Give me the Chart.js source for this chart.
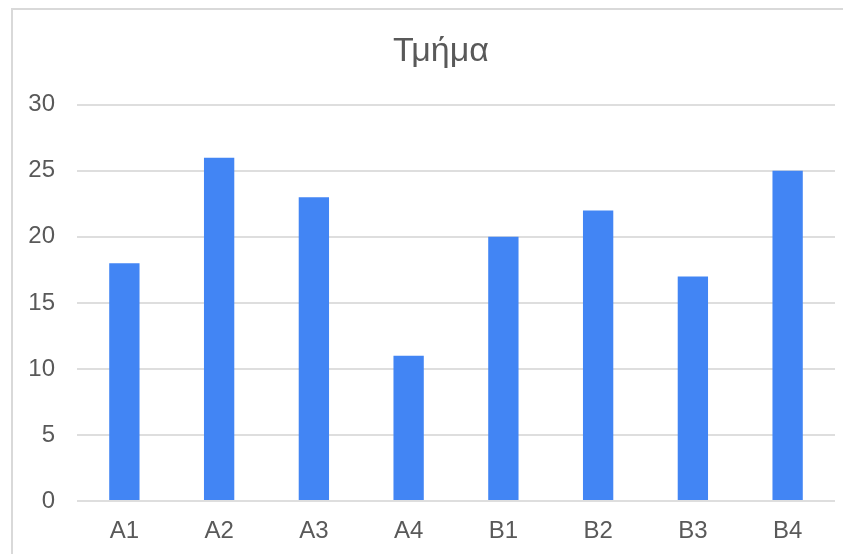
<!DOCTYPE html>
<html lang="el">
<head>
    <meta charset="UTF-8">
    <title>Τμήμα</title>
    <script src="https://cdn.jsdelivr.net/npm/chart.js"></script>
    <style>
        body {
            margin: 0;
            background: white;
            overflow: hidden;
        }
        #chart {
            position: absolute;
            left: 0;
            top: 0;
        }
        /* the chart frame is cut off on the right and bottom, like the original */
        .frame {
            position: absolute;
            left: 11px;
            top: 8px;
            width: 900px;
            height: 600px;
            border-left: 2px solid #d9d9d9;
            border-top: 2px solid #d9d9d9;
            pointer-events: none;
        }
    </style>
</head>
<body>
    <canvas id="chart" width="882" height="554"></canvas>
    <div class="frame"></div>

    <script>
        // data
        const categories = ["A1", "A2", "A3", "A4", "B1", "B2", "B3", "B4"];
        const values = [18, 26, 23, 11, 20, 22, 17, 25];
        const yTicks = [0, 5, 10, 15, 20, 25, 30];

        const textColor = "#595959";
        const fontFamily = "Arial, 'Liberation Sans', sans-serif";

        let ctx = document.getElementById("chart").getContext("2d");
        let chart = new Chart(ctx, {
            type: "bar",
            data: {
                labels: categories,
                datasets: [{
                    label: "Τμήμα",
                    data: values,
                    backgroundColor: "#4285F4",
                    borderWidth: 0,
                    categoryPercentage: 1.0,
                    barPercentage: 0.32
                }]
            },
            options: {
                responsive: false,
                animation: false,
                layout: {
                    padding: 0
                },
                plugins: {
                    legend: { display: false },
                    tooltip: { enabled: false },
                    title: {
                        display: true,
                        text: "Τμήμα",
                        color: textColor,
                        font: { family: fontFamily, size: 34, weight: "normal" },
                        padding: { top: 31, bottom: 33 }
                    }
                },
                scales: {
                    x: {
                        grid: { display: false },
                        border: { display: false },
                        ticks: {
                            color: textColor,
                            font: { family: fontFamily, size: 24 },
                            padding: 8
                        },
                        afterFit: (scale) => { scale.height = 53; }
                    },
                    y: {
                        min: 0,
                        max: 30,
                        afterBuildTicks: (scale) => {
                            scale.ticks = yTicks.map(v => ({ value: v }));
                        },
                        grid: {
                            color: "#dedede",
                            lineWidth: 2,
                            drawTicks: false
                        },
                        border: { display: false },
                        ticks: {
                            color: textColor,
                            font: { family: fontFamily, size: 24 },
                            padding: 22
                        },
                        afterFit: (scale) => { scale.width = 77; }
                    },
                    // empty right margin so the title centres on the whole frame
                    yRight: {
                        position: "right",
                        display: true,
                        grid: { display: false, drawTicks: false },
                        border: { display: false },
                        ticks: { display: false },
                        afterFit: (scale) => { scale.width = 47; }
                    }
                }
            }
        });
    </script>
</body>
</html>
